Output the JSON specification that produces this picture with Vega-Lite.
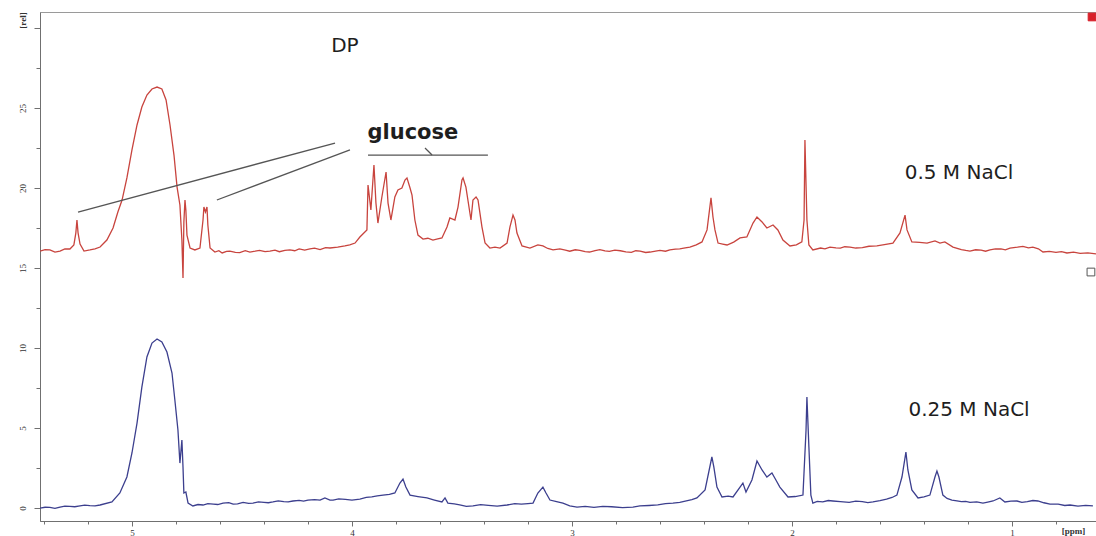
{
  "$schema": "https://vega.github.io/schema/vega-lite/v6.json",
  "width": 1056,
  "height": 509,
  "autosize": "none",
  "padding": {"left": 40, "top": 12, "right": 0, "bottom": 15},
  "background": "white",
  "config": {
    "view": {"stroke": "#9a9a9a", "strokeWidth": 1},
    "axis": {
      "domainColor": "#707070",
      "tickColor": "#707070",
      "labelFont": "Liberation Serif",
      "labelFontSize": 9,
      "labelColor": "#333333",
      "titleFont": "Liberation Serif",
      "titleFontSize": 9,
      "titleColor": "#333333",
      "grid": false
    }
  },
  "datasets": {
    "spectra": [
      {"series": "0.5 M NaCl", "ppm": 5.418, "intensity": 16.06},
      {"series": "0.5 M NaCl", "ppm": 5.395, "intensity": 16.15},
      {"series": "0.5 M NaCl", "ppm": 5.373, "intensity": 16.13},
      {"series": "0.5 M NaCl", "ppm": 5.350, "intensity": 16.00},
      {"series": "0.5 M NaCl", "ppm": 5.327, "intensity": 16.06},
      {"series": "0.5 M NaCl", "ppm": 5.305, "intensity": 16.19},
      {"series": "0.5 M NaCl", "ppm": 5.282, "intensity": 16.19},
      {"series": "0.5 M NaCl", "ppm": 5.264, "intensity": 16.44},
      {"series": "0.5 M NaCl", "ppm": 5.255, "intensity": 17.20},
      {"series": "0.5 M NaCl", "ppm": 5.250, "intensity": 18.00},
      {"series": "0.5 M NaCl", "ppm": 5.245, "intensity": 17.20},
      {"series": "0.5 M NaCl", "ppm": 5.236, "intensity": 16.50},
      {"series": "0.5 M NaCl", "ppm": 5.218, "intensity": 16.06},
      {"series": "0.5 M NaCl", "ppm": 5.191, "intensity": 16.13},
      {"series": "0.5 M NaCl", "ppm": 5.168, "intensity": 16.20},
      {"series": "0.5 M NaCl", "ppm": 5.145, "intensity": 16.31},
      {"series": "0.5 M NaCl", "ppm": 5.114, "intensity": 16.75},
      {"series": "0.5 M NaCl", "ppm": 5.086, "intensity": 17.50},
      {"series": "0.5 M NaCl", "ppm": 5.064, "intensity": 18.50},
      {"series": "0.5 M NaCl", "ppm": 5.045, "intensity": 19.25},
      {"series": "0.5 M NaCl", "ppm": 5.023, "intensity": 20.63},
      {"series": "0.5 M NaCl", "ppm": 5.000, "intensity": 22.38},
      {"series": "0.5 M NaCl", "ppm": 4.977, "intensity": 23.94},
      {"series": "0.5 M NaCl", "ppm": 4.955, "intensity": 25.06},
      {"series": "0.5 M NaCl", "ppm": 4.932, "intensity": 25.81},
      {"series": "0.5 M NaCl", "ppm": 4.909, "intensity": 26.19},
      {"series": "0.5 M NaCl", "ppm": 4.886, "intensity": 26.31},
      {"series": "0.5 M NaCl", "ppm": 4.864, "intensity": 26.19},
      {"series": "0.5 M NaCl", "ppm": 4.845, "intensity": 25.50},
      {"series": "0.5 M NaCl", "ppm": 4.827, "intensity": 23.94},
      {"series": "0.5 M NaCl", "ppm": 4.809, "intensity": 22.06},
      {"series": "0.5 M NaCl", "ppm": 4.795, "intensity": 20.06},
      {"series": "0.5 M NaCl", "ppm": 4.782, "intensity": 18.94},
      {"series": "0.5 M NaCl", "ppm": 4.773, "intensity": 16.75},
      {"series": "0.5 M NaCl", "ppm": 4.768, "intensity": 14.38},
      {"series": "0.5 M NaCl", "ppm": 4.764, "intensity": 17.88},
      {"series": "0.5 M NaCl", "ppm": 4.759, "intensity": 19.25},
      {"series": "0.5 M NaCl", "ppm": 4.755, "intensity": 18.63},
      {"series": "0.5 M NaCl", "ppm": 4.750, "intensity": 17.06},
      {"series": "0.5 M NaCl", "ppm": 4.736, "intensity": 16.25},
      {"series": "0.5 M NaCl", "ppm": 4.714, "intensity": 16.13},
      {"series": "0.5 M NaCl", "ppm": 4.691, "intensity": 16.25},
      {"series": "0.5 M NaCl", "ppm": 4.677, "intensity": 18.00},
      {"series": "0.5 M NaCl", "ppm": 4.673, "intensity": 18.81},
      {"series": "0.5 M NaCl", "ppm": 4.666, "intensity": 18.50},
      {"series": "0.5 M NaCl", "ppm": 4.659, "intensity": 18.81},
      {"series": "0.5 M NaCl", "ppm": 4.655, "intensity": 17.69},
      {"series": "0.5 M NaCl", "ppm": 4.645, "intensity": 16.25},
      {"series": "0.5 M NaCl", "ppm": 4.623, "intensity": 16.00},
      {"series": "0.5 M NaCl", "ppm": 4.605, "intensity": 16.08},
      {"series": "0.5 M NaCl", "ppm": 4.590, "intensity": 15.94},
      {"series": "0.5 M NaCl", "ppm": 4.570, "intensity": 16.04},
      {"series": "0.5 M NaCl", "ppm": 4.555, "intensity": 16.06},
      {"series": "0.5 M NaCl", "ppm": 4.530, "intensity": 15.98},
      {"series": "0.5 M NaCl", "ppm": 4.510, "intensity": 15.96},
      {"series": "0.5 M NaCl", "ppm": 4.485, "intensity": 16.08},
      {"series": "0.5 M NaCl", "ppm": 4.464, "intensity": 16.00},
      {"series": "0.5 M NaCl", "ppm": 4.440, "intensity": 16.05},
      {"series": "0.5 M NaCl", "ppm": 4.420, "intensity": 16.10},
      {"series": "0.5 M NaCl", "ppm": 4.395, "intensity": 16.02},
      {"series": "0.5 M NaCl", "ppm": 4.373, "intensity": 16.06},
      {"series": "0.5 M NaCl", "ppm": 4.350, "intensity": 16.12},
      {"series": "0.5 M NaCl", "ppm": 4.330, "intensity": 16.02},
      {"series": "0.5 M NaCl", "ppm": 4.305, "intensity": 16.10},
      {"series": "0.5 M NaCl", "ppm": 4.282, "intensity": 16.13},
      {"series": "0.5 M NaCl", "ppm": 4.260, "intensity": 16.08},
      {"series": "0.5 M NaCl", "ppm": 4.240, "intensity": 16.20},
      {"series": "0.5 M NaCl", "ppm": 4.215, "intensity": 16.12},
      {"series": "0.5 M NaCl", "ppm": 4.191, "intensity": 16.19},
      {"series": "0.5 M NaCl", "ppm": 4.170, "intensity": 16.24},
      {"series": "0.5 M NaCl", "ppm": 4.145, "intensity": 16.15},
      {"series": "0.5 M NaCl", "ppm": 4.120, "intensity": 16.27},
      {"series": "0.5 M NaCl", "ppm": 4.100, "intensity": 16.25},
      {"series": "0.5 M NaCl", "ppm": 4.065, "intensity": 16.30},
      {"series": "0.5 M NaCl", "ppm": 4.032, "intensity": 16.38},
      {"series": "0.5 M NaCl", "ppm": 4.010, "intensity": 16.45},
      {"series": "0.5 M NaCl", "ppm": 3.986, "intensity": 16.56},
      {"series": "0.5 M NaCl", "ppm": 3.964, "intensity": 16.94},
      {"series": "0.5 M NaCl", "ppm": 3.932, "intensity": 17.38},
      {"series": "0.5 M NaCl", "ppm": 3.927, "intensity": 20.19},
      {"series": "0.5 M NaCl", "ppm": 3.914, "intensity": 18.63},
      {"series": "0.5 M NaCl", "ppm": 3.900, "intensity": 21.44},
      {"series": "0.5 M NaCl", "ppm": 3.891, "intensity": 19.06},
      {"series": "0.5 M NaCl", "ppm": 3.882, "intensity": 17.81},
      {"series": "0.5 M NaCl", "ppm": 3.864, "intensity": 19.44},
      {"series": "0.5 M NaCl", "ppm": 3.845, "intensity": 21.00},
      {"series": "0.5 M NaCl", "ppm": 3.836, "intensity": 19.06},
      {"series": "0.5 M NaCl", "ppm": 3.823, "intensity": 18.00},
      {"series": "0.5 M NaCl", "ppm": 3.805, "intensity": 19.44},
      {"series": "0.5 M NaCl", "ppm": 3.791, "intensity": 19.88},
      {"series": "0.5 M NaCl", "ppm": 3.773, "intensity": 20.00},
      {"series": "0.5 M NaCl", "ppm": 3.759, "intensity": 20.50},
      {"series": "0.5 M NaCl", "ppm": 3.750, "intensity": 20.63},
      {"series": "0.5 M NaCl", "ppm": 3.736, "intensity": 20.00},
      {"series": "0.5 M NaCl", "ppm": 3.727, "intensity": 19.56},
      {"series": "0.5 M NaCl", "ppm": 3.714, "intensity": 18.00},
      {"series": "0.5 M NaCl", "ppm": 3.700, "intensity": 17.06},
      {"series": "0.5 M NaCl", "ppm": 3.677, "intensity": 16.81},
      {"series": "0.5 M NaCl", "ppm": 3.655, "intensity": 16.86},
      {"series": "0.5 M NaCl", "ppm": 3.632, "intensity": 16.75},
      {"series": "0.5 M NaCl", "ppm": 3.610, "intensity": 16.82},
      {"series": "0.5 M NaCl", "ppm": 3.591, "intensity": 16.88},
      {"series": "0.5 M NaCl", "ppm": 3.568, "intensity": 17.56},
      {"series": "0.5 M NaCl", "ppm": 3.555, "intensity": 18.13},
      {"series": "0.5 M NaCl", "ppm": 3.532, "intensity": 18.00},
      {"series": "0.5 M NaCl", "ppm": 3.518, "intensity": 18.81},
      {"series": "0.5 M NaCl", "ppm": 3.500, "intensity": 20.50},
      {"series": "0.5 M NaCl", "ppm": 3.495, "intensity": 20.63},
      {"series": "0.5 M NaCl", "ppm": 3.482, "intensity": 20.06},
      {"series": "0.5 M NaCl", "ppm": 3.473, "intensity": 19.25},
      {"series": "0.5 M NaCl", "ppm": 3.459, "intensity": 18.00},
      {"series": "0.5 M NaCl", "ppm": 3.450, "intensity": 19.25},
      {"series": "0.5 M NaCl", "ppm": 3.436, "intensity": 19.44},
      {"series": "0.5 M NaCl", "ppm": 3.427, "intensity": 19.25},
      {"series": "0.5 M NaCl", "ppm": 3.409, "intensity": 17.56},
      {"series": "0.5 M NaCl", "ppm": 3.395, "intensity": 16.56},
      {"series": "0.5 M NaCl", "ppm": 3.373, "intensity": 16.25},
      {"series": "0.5 M NaCl", "ppm": 3.350, "intensity": 16.30},
      {"series": "0.5 M NaCl", "ppm": 3.327, "intensity": 16.25},
      {"series": "0.5 M NaCl", "ppm": 3.295, "intensity": 16.56},
      {"series": "0.5 M NaCl", "ppm": 3.282, "intensity": 17.56},
      {"series": "0.5 M NaCl", "ppm": 3.268, "intensity": 18.31},
      {"series": "0.5 M NaCl", "ppm": 3.259, "intensity": 18.00},
      {"series": "0.5 M NaCl", "ppm": 3.250, "intensity": 17.19},
      {"series": "0.5 M NaCl", "ppm": 3.227, "intensity": 16.38},
      {"series": "0.5 M NaCl", "ppm": 3.191, "intensity": 16.25},
      {"series": "0.5 M NaCl", "ppm": 3.155, "intensity": 16.44},
      {"series": "0.5 M NaCl", "ppm": 3.132, "intensity": 16.38},
      {"series": "0.5 M NaCl", "ppm": 3.110, "intensity": 16.22},
      {"series": "0.5 M NaCl", "ppm": 3.086, "intensity": 16.13},
      {"series": "0.5 M NaCl", "ppm": 3.055, "intensity": 16.19},
      {"series": "0.5 M NaCl", "ppm": 3.030, "intensity": 16.12},
      {"series": "0.5 M NaCl", "ppm": 3.010, "intensity": 16.05},
      {"series": "0.5 M NaCl", "ppm": 2.985, "intensity": 16.14},
      {"series": "0.5 M NaCl", "ppm": 2.964, "intensity": 16.10},
      {"series": "0.5 M NaCl", "ppm": 2.940, "intensity": 16.03},
      {"series": "0.5 M NaCl", "ppm": 2.920, "intensity": 16.00},
      {"series": "0.5 M NaCl", "ppm": 2.895, "intensity": 16.09},
      {"series": "0.5 M NaCl", "ppm": 2.873, "intensity": 16.15},
      {"series": "0.5 M NaCl", "ppm": 2.850, "intensity": 16.07},
      {"series": "0.5 M NaCl", "ppm": 2.830, "intensity": 16.04},
      {"series": "0.5 M NaCl", "ppm": 2.805, "intensity": 16.12},
      {"series": "0.5 M NaCl", "ppm": 2.780, "intensity": 16.08},
      {"series": "0.5 M NaCl", "ppm": 2.755, "intensity": 16.01},
      {"series": "0.5 M NaCl", "ppm": 2.730, "intensity": 15.98},
      {"series": "0.5 M NaCl", "ppm": 2.710, "intensity": 16.08},
      {"series": "0.5 M NaCl", "ppm": 2.690, "intensity": 16.06},
      {"series": "0.5 M NaCl", "ppm": 2.665, "intensity": 15.97},
      {"series": "0.5 M NaCl", "ppm": 2.645, "intensity": 16.00},
      {"series": "0.5 M NaCl", "ppm": 2.620, "intensity": 16.06},
      {"series": "0.5 M NaCl", "ppm": 2.600, "intensity": 16.10},
      {"series": "0.5 M NaCl", "ppm": 2.575, "intensity": 16.05},
      {"series": "0.5 M NaCl", "ppm": 2.555, "intensity": 16.13},
      {"series": "0.5 M NaCl", "ppm": 2.530, "intensity": 16.18},
      {"series": "0.5 M NaCl", "ppm": 2.510, "intensity": 16.20},
      {"series": "0.5 M NaCl", "ppm": 2.485, "intensity": 16.26},
      {"series": "0.5 M NaCl", "ppm": 2.464, "intensity": 16.31},
      {"series": "0.5 M NaCl", "ppm": 2.435, "intensity": 16.45},
      {"series": "0.5 M NaCl", "ppm": 2.409, "intensity": 16.63},
      {"series": "0.5 M NaCl", "ppm": 2.386, "intensity": 17.38},
      {"series": "0.5 M NaCl", "ppm": 2.368, "intensity": 19.38},
      {"series": "0.5 M NaCl", "ppm": 2.359, "intensity": 18.19},
      {"series": "0.5 M NaCl", "ppm": 2.350, "intensity": 17.38},
      {"series": "0.5 M NaCl", "ppm": 2.336, "intensity": 16.56},
      {"series": "0.5 M NaCl", "ppm": 2.315, "intensity": 16.50},
      {"series": "0.5 M NaCl", "ppm": 2.295, "intensity": 16.44},
      {"series": "0.5 M NaCl", "ppm": 2.265, "intensity": 16.62},
      {"series": "0.5 M NaCl", "ppm": 2.236, "intensity": 16.88},
      {"series": "0.5 M NaCl", "ppm": 2.205, "intensity": 16.94},
      {"series": "0.5 M NaCl", "ppm": 2.177, "intensity": 17.81},
      {"series": "0.5 M NaCl", "ppm": 2.159, "intensity": 18.19},
      {"series": "0.5 M NaCl", "ppm": 2.136, "intensity": 17.88},
      {"series": "0.5 M NaCl", "ppm": 2.114, "intensity": 17.50},
      {"series": "0.5 M NaCl", "ppm": 2.086, "intensity": 17.69},
      {"series": "0.5 M NaCl", "ppm": 2.064, "intensity": 17.38},
      {"series": "0.5 M NaCl", "ppm": 2.041, "intensity": 16.75},
      {"series": "0.5 M NaCl", "ppm": 2.009, "intensity": 16.38},
      {"series": "0.5 M NaCl", "ppm": 1.980, "intensity": 16.45},
      {"series": "0.5 M NaCl", "ppm": 1.955, "intensity": 16.63},
      {"series": "0.5 M NaCl", "ppm": 1.945, "intensity": 18.00},
      {"series": "0.5 M NaCl", "ppm": 1.941, "intensity": 23.00},
      {"series": "0.5 M NaCl", "ppm": 1.932, "intensity": 18.00},
      {"series": "0.5 M NaCl", "ppm": 1.923, "intensity": 16.44},
      {"series": "0.5 M NaCl", "ppm": 1.905, "intensity": 16.13},
      {"series": "0.5 M NaCl", "ppm": 1.870, "intensity": 16.25},
      {"series": "0.5 M NaCl", "ppm": 1.850, "intensity": 16.20},
      {"series": "0.5 M NaCl", "ppm": 1.827, "intensity": 16.31},
      {"series": "0.5 M NaCl", "ppm": 1.800, "intensity": 16.26},
      {"series": "0.5 M NaCl", "ppm": 1.780, "intensity": 16.24},
      {"series": "0.5 M NaCl", "ppm": 1.760, "intensity": 16.33},
      {"series": "0.5 M NaCl", "ppm": 1.736, "intensity": 16.31},
      {"series": "0.5 M NaCl", "ppm": 1.710, "intensity": 16.25},
      {"series": "0.5 M NaCl", "ppm": 1.680, "intensity": 16.28},
      {"series": "0.5 M NaCl", "ppm": 1.650, "intensity": 16.36},
      {"series": "0.5 M NaCl", "ppm": 1.614, "intensity": 16.38},
      {"series": "0.5 M NaCl", "ppm": 1.580, "intensity": 16.46},
      {"series": "0.5 M NaCl", "ppm": 1.541, "intensity": 16.56},
      {"series": "0.5 M NaCl", "ppm": 1.509, "intensity": 17.19},
      {"series": "0.5 M NaCl", "ppm": 1.486, "intensity": 18.31},
      {"series": "0.5 M NaCl", "ppm": 1.477, "intensity": 17.38},
      {"series": "0.5 M NaCl", "ppm": 1.455, "intensity": 16.63},
      {"series": "0.5 M NaCl", "ppm": 1.420, "intensity": 16.60},
      {"series": "0.5 M NaCl", "ppm": 1.386, "intensity": 16.56},
      {"series": "0.5 M NaCl", "ppm": 1.350, "intensity": 16.69},
      {"series": "0.5 M NaCl", "ppm": 1.327, "intensity": 16.56},
      {"series": "0.5 M NaCl", "ppm": 1.305, "intensity": 16.63},
      {"series": "0.5 M NaCl", "ppm": 1.268, "intensity": 16.31},
      {"series": "0.5 M NaCl", "ppm": 1.230, "intensity": 16.15},
      {"series": "0.5 M NaCl", "ppm": 1.210, "intensity": 16.10},
      {"series": "0.5 M NaCl", "ppm": 1.191, "intensity": 16.06},
      {"series": "0.5 M NaCl", "ppm": 1.165, "intensity": 16.14},
      {"series": "0.5 M NaCl", "ppm": 1.140, "intensity": 16.12},
      {"series": "0.5 M NaCl", "ppm": 1.120, "intensity": 16.05},
      {"series": "0.5 M NaCl", "ppm": 1.100, "intensity": 16.13},
      {"series": "0.5 M NaCl", "ppm": 1.075, "intensity": 16.19},
      {"series": "0.5 M NaCl", "ppm": 1.050, "intensity": 16.20},
      {"series": "0.5 M NaCl", "ppm": 1.030, "intensity": 16.14},
      {"series": "0.5 M NaCl", "ppm": 1.009, "intensity": 16.25},
      {"series": "0.5 M NaCl", "ppm": 0.975, "intensity": 16.30},
      {"series": "0.5 M NaCl", "ppm": 0.950, "intensity": 16.35},
      {"series": "0.5 M NaCl", "ppm": 0.925, "intensity": 16.26},
      {"series": "0.5 M NaCl", "ppm": 0.905, "intensity": 16.31},
      {"series": "0.5 M NaCl", "ppm": 0.880, "intensity": 16.20},
      {"series": "0.5 M NaCl", "ppm": 0.859, "intensity": 16.00},
      {"series": "0.5 M NaCl", "ppm": 0.830, "intensity": 16.04},
      {"series": "0.5 M NaCl", "ppm": 0.800, "intensity": 15.98},
      {"series": "0.5 M NaCl", "ppm": 0.775, "intensity": 16.03},
      {"series": "0.5 M NaCl", "ppm": 0.750, "intensity": 15.94},
      {"series": "0.5 M NaCl", "ppm": 0.720, "intensity": 15.99},
      {"series": "0.5 M NaCl", "ppm": 0.690, "intensity": 15.92},
      {"series": "0.5 M NaCl", "ppm": 0.655, "intensity": 15.95},
      {"series": "0.5 M NaCl", "ppm": 0.618, "intensity": 15.88},

      {"series": "0.25 M NaCl", "ppm": 5.418, "intensity": 0.00},
      {"series": "0.25 M NaCl", "ppm": 5.395, "intensity": 0.05},
      {"series": "0.25 M NaCl", "ppm": 5.373, "intensity": 0.04},
      {"series": "0.25 M NaCl", "ppm": 5.350, "intensity": -0.02},
      {"series": "0.25 M NaCl", "ppm": 5.327, "intensity": 0.06},
      {"series": "0.25 M NaCl", "ppm": 5.305, "intensity": 0.12},
      {"series": "0.25 M NaCl", "ppm": 5.282, "intensity": 0.10},
      {"series": "0.25 M NaCl", "ppm": 5.260, "intensity": 0.08},
      {"series": "0.25 M NaCl", "ppm": 5.236, "intensity": 0.13},
      {"series": "0.25 M NaCl", "ppm": 5.215, "intensity": 0.18},
      {"series": "0.25 M NaCl", "ppm": 5.191, "intensity": 0.15},
      {"series": "0.25 M NaCl", "ppm": 5.168, "intensity": 0.14},
      {"series": "0.25 M NaCl", "ppm": 5.145, "intensity": 0.19},
      {"series": "0.25 M NaCl", "ppm": 5.091, "intensity": 0.38},
      {"series": "0.25 M NaCl", "ppm": 5.055, "intensity": 0.94},
      {"series": "0.25 M NaCl", "ppm": 5.023, "intensity": 1.94},
      {"series": "0.25 M NaCl", "ppm": 5.000, "intensity": 3.44},
      {"series": "0.25 M NaCl", "ppm": 4.977, "intensity": 5.31},
      {"series": "0.25 M NaCl", "ppm": 4.955, "intensity": 7.56},
      {"series": "0.25 M NaCl", "ppm": 4.932, "intensity": 9.44},
      {"series": "0.25 M NaCl", "ppm": 4.909, "intensity": 10.31},
      {"series": "0.25 M NaCl", "ppm": 4.886, "intensity": 10.56},
      {"series": "0.25 M NaCl", "ppm": 4.864, "intensity": 10.38},
      {"series": "0.25 M NaCl", "ppm": 4.841, "intensity": 9.75},
      {"series": "0.25 M NaCl", "ppm": 4.818, "intensity": 8.44},
      {"series": "0.25 M NaCl", "ppm": 4.805, "intensity": 6.75},
      {"series": "0.25 M NaCl", "ppm": 4.791, "intensity": 4.88},
      {"series": "0.25 M NaCl", "ppm": 4.782, "intensity": 2.81},
      {"series": "0.25 M NaCl", "ppm": 4.773, "intensity": 4.25},
      {"series": "0.25 M NaCl", "ppm": 4.768, "intensity": 2.56},
      {"series": "0.25 M NaCl", "ppm": 4.764, "intensity": 0.94},
      {"series": "0.25 M NaCl", "ppm": 4.755, "intensity": 1.00},
      {"series": "0.25 M NaCl", "ppm": 4.745, "intensity": 0.31},
      {"series": "0.25 M NaCl", "ppm": 4.723, "intensity": 0.13},
      {"series": "0.25 M NaCl", "ppm": 4.700, "intensity": 0.22},
      {"series": "0.25 M NaCl", "ppm": 4.677, "intensity": 0.19},
      {"series": "0.25 M NaCl", "ppm": 4.655, "intensity": 0.28},
      {"series": "0.25 M NaCl", "ppm": 4.630, "intensity": 0.25},
      {"series": "0.25 M NaCl", "ppm": 4.610, "intensity": 0.22},
      {"series": "0.25 M NaCl", "ppm": 4.586, "intensity": 0.31},
      {"series": "0.25 M NaCl", "ppm": 4.560, "intensity": 0.34},
      {"series": "0.25 M NaCl", "ppm": 4.540, "intensity": 0.24},
      {"series": "0.25 M NaCl", "ppm": 4.520, "intensity": 0.26},
      {"series": "0.25 M NaCl", "ppm": 4.495, "intensity": 0.35},
      {"series": "0.25 M NaCl", "ppm": 4.470, "intensity": 0.29},
      {"series": "0.25 M NaCl", "ppm": 4.450, "intensity": 0.31},
      {"series": "0.25 M NaCl", "ppm": 4.425, "intensity": 0.39},
      {"series": "0.25 M NaCl", "ppm": 4.400, "intensity": 0.36},
      {"series": "0.25 M NaCl", "ppm": 4.380, "intensity": 0.33},
      {"series": "0.25 M NaCl", "ppm": 4.359, "intensity": 0.38},
      {"series": "0.25 M NaCl", "ppm": 4.335, "intensity": 0.45},
      {"series": "0.25 M NaCl", "ppm": 4.310, "intensity": 0.40},
      {"series": "0.25 M NaCl", "ppm": 4.290, "intensity": 0.38},
      {"series": "0.25 M NaCl", "ppm": 4.268, "intensity": 0.44},
      {"series": "0.25 M NaCl", "ppm": 4.240, "intensity": 0.48},
      {"series": "0.25 M NaCl", "ppm": 4.220, "intensity": 0.43},
      {"series": "0.25 M NaCl", "ppm": 4.200, "intensity": 0.50},
      {"series": "0.25 M NaCl", "ppm": 4.170, "intensity": 0.52},
      {"series": "0.25 M NaCl", "ppm": 4.145, "intensity": 0.49},
      {"series": "0.25 M NaCl", "ppm": 4.123, "intensity": 0.63},
      {"series": "0.25 M NaCl", "ppm": 4.100, "intensity": 0.50},
      {"series": "0.25 M NaCl", "ppm": 4.086, "intensity": 0.50},
      {"series": "0.25 M NaCl", "ppm": 4.060, "intensity": 0.57},
      {"series": "0.25 M NaCl", "ppm": 4.030, "intensity": 0.54},
      {"series": "0.25 M NaCl", "ppm": 4.000, "intensity": 0.50},
      {"series": "0.25 M NaCl", "ppm": 3.964, "intensity": 0.56},
      {"series": "0.25 M NaCl", "ppm": 3.935, "intensity": 0.66},
      {"series": "0.25 M NaCl", "ppm": 3.910, "intensity": 0.70},
      {"series": "0.25 M NaCl", "ppm": 3.885, "intensity": 0.76},
      {"series": "0.25 M NaCl", "ppm": 3.859, "intensity": 0.81},
      {"series": "0.25 M NaCl", "ppm": 3.830, "intensity": 0.86},
      {"series": "0.25 M NaCl", "ppm": 3.805, "intensity": 0.94},
      {"series": "0.25 M NaCl", "ppm": 3.782, "intensity": 1.56},
      {"series": "0.25 M NaCl", "ppm": 3.768, "intensity": 1.81},
      {"series": "0.25 M NaCl", "ppm": 3.755, "intensity": 1.31},
      {"series": "0.25 M NaCl", "ppm": 3.736, "intensity": 0.81},
      {"series": "0.25 M NaCl", "ppm": 3.700, "intensity": 0.72},
      {"series": "0.25 M NaCl", "ppm": 3.659, "intensity": 0.63},
      {"series": "0.25 M NaCl", "ppm": 3.625, "intensity": 0.50},
      {"series": "0.25 M NaCl", "ppm": 3.591, "intensity": 0.38},
      {"series": "0.25 M NaCl", "ppm": 3.577, "intensity": 0.63},
      {"series": "0.25 M NaCl", "ppm": 3.564, "intensity": 0.31},
      {"series": "0.25 M NaCl", "ppm": 3.535, "intensity": 0.26},
      {"series": "0.25 M NaCl", "ppm": 3.510, "intensity": 0.20},
      {"series": "0.25 M NaCl", "ppm": 3.480, "intensity": 0.10},
      {"series": "0.25 M NaCl", "ppm": 3.450, "intensity": 0.13},
      {"series": "0.25 M NaCl", "ppm": 3.415, "intensity": 0.21},
      {"series": "0.25 M NaCl", "ppm": 3.380, "intensity": 0.17},
      {"series": "0.25 M NaCl", "ppm": 3.340, "intensity": 0.12},
      {"series": "0.25 M NaCl", "ppm": 3.295, "intensity": 0.19},
      {"series": "0.25 M NaCl", "ppm": 3.260, "intensity": 0.27},
      {"series": "0.25 M NaCl", "ppm": 3.230, "intensity": 0.24},
      {"series": "0.25 M NaCl", "ppm": 3.200, "intensity": 0.28},
      {"series": "0.25 M NaCl", "ppm": 3.177, "intensity": 0.31},
      {"series": "0.25 M NaCl", "ppm": 3.155, "intensity": 0.94},
      {"series": "0.25 M NaCl", "ppm": 3.132, "intensity": 1.31},
      {"series": "0.25 M NaCl", "ppm": 3.118, "intensity": 0.94},
      {"series": "0.25 M NaCl", "ppm": 3.100, "intensity": 0.50},
      {"series": "0.25 M NaCl", "ppm": 3.070, "intensity": 0.40},
      {"series": "0.25 M NaCl", "ppm": 3.041, "intensity": 0.31},
      {"series": "0.25 M NaCl", "ppm": 3.010, "intensity": 0.14},
      {"series": "0.25 M NaCl", "ppm": 2.977, "intensity": 0.06},
      {"series": "0.25 M NaCl", "ppm": 2.940, "intensity": 0.10},
      {"series": "0.25 M NaCl", "ppm": 2.900, "intensity": 0.04},
      {"series": "0.25 M NaCl", "ppm": 2.860, "intensity": 0.10},
      {"series": "0.25 M NaCl", "ppm": 2.820, "intensity": 0.08},
      {"series": "0.25 M NaCl", "ppm": 2.770, "intensity": 0.02},
      {"series": "0.25 M NaCl", "ppm": 2.723, "intensity": 0.06},
      {"series": "0.25 M NaCl", "ppm": 2.691, "intensity": 0.13},
      {"series": "0.25 M NaCl", "ppm": 2.650, "intensity": 0.16},
      {"series": "0.25 M NaCl", "ppm": 2.610, "intensity": 0.20},
      {"series": "0.25 M NaCl", "ppm": 2.575, "intensity": 0.28},
      {"series": "0.25 M NaCl", "ppm": 2.541, "intensity": 0.31},
      {"series": "0.25 M NaCl", "ppm": 2.510, "intensity": 0.36},
      {"series": "0.25 M NaCl", "ppm": 2.480, "intensity": 0.45},
      {"series": "0.25 M NaCl", "ppm": 2.455, "intensity": 0.52},
      {"series": "0.25 M NaCl", "ppm": 2.432, "intensity": 0.63},
      {"series": "0.25 M NaCl", "ppm": 2.395, "intensity": 1.13},
      {"series": "0.25 M NaCl", "ppm": 2.364, "intensity": 3.19},
      {"series": "0.25 M NaCl", "ppm": 2.355, "intensity": 2.56},
      {"series": "0.25 M NaCl", "ppm": 2.341, "intensity": 1.31},
      {"series": "0.25 M NaCl", "ppm": 2.318, "intensity": 0.69},
      {"series": "0.25 M NaCl", "ppm": 2.290, "intensity": 0.74},
      {"series": "0.25 M NaCl", "ppm": 2.268, "intensity": 0.69},
      {"series": "0.25 M NaCl", "ppm": 2.236, "intensity": 1.31},
      {"series": "0.25 M NaCl", "ppm": 2.223, "intensity": 1.56},
      {"series": "0.25 M NaCl", "ppm": 2.209, "intensity": 1.00},
      {"series": "0.25 M NaCl", "ppm": 2.182, "intensity": 1.75},
      {"series": "0.25 M NaCl", "ppm": 2.159, "intensity": 2.94},
      {"series": "0.25 M NaCl", "ppm": 2.136, "intensity": 2.38},
      {"series": "0.25 M NaCl", "ppm": 2.114, "intensity": 1.94},
      {"series": "0.25 M NaCl", "ppm": 2.091, "intensity": 2.19},
      {"series": "0.25 M NaCl", "ppm": 2.073, "intensity": 1.75},
      {"series": "0.25 M NaCl", "ppm": 2.055, "intensity": 1.31},
      {"series": "0.25 M NaCl", "ppm": 2.018, "intensity": 0.69},
      {"series": "0.25 M NaCl", "ppm": 1.985, "intensity": 0.72},
      {"series": "0.25 M NaCl", "ppm": 1.950, "intensity": 0.81},
      {"series": "0.25 M NaCl", "ppm": 1.936, "intensity": 4.88},
      {"series": "0.25 M NaCl", "ppm": 1.932, "intensity": 6.94},
      {"series": "0.25 M NaCl", "ppm": 1.923, "intensity": 3.81},
      {"series": "0.25 M NaCl", "ppm": 1.914, "intensity": 0.81},
      {"series": "0.25 M NaCl", "ppm": 1.905, "intensity": 0.31},
      {"series": "0.25 M NaCl", "ppm": 1.885, "intensity": 0.42},
      {"series": "0.25 M NaCl", "ppm": 1.860, "intensity": 0.38},
      {"series": "0.25 M NaCl", "ppm": 1.835, "intensity": 0.47},
      {"series": "0.25 M NaCl", "ppm": 1.814, "intensity": 0.44},
      {"series": "0.25 M NaCl", "ppm": 1.780, "intensity": 0.40},
      {"series": "0.25 M NaCl", "ppm": 1.740, "intensity": 0.36},
      {"series": "0.25 M NaCl", "ppm": 1.710, "intensity": 0.43},
      {"series": "0.25 M NaCl", "ppm": 1.680, "intensity": 0.40},
      {"series": "0.25 M NaCl", "ppm": 1.655, "intensity": 0.34},
      {"series": "0.25 M NaCl", "ppm": 1.632, "intensity": 0.38},
      {"series": "0.25 M NaCl", "ppm": 1.600, "intensity": 0.46},
      {"series": "0.25 M NaCl", "ppm": 1.570, "intensity": 0.55},
      {"series": "0.25 M NaCl", "ppm": 1.545, "intensity": 0.66},
      {"series": "0.25 M NaCl", "ppm": 1.523, "intensity": 0.81},
      {"series": "0.25 M NaCl", "ppm": 1.500, "intensity": 1.94},
      {"series": "0.25 M NaCl", "ppm": 1.482, "intensity": 3.50},
      {"series": "0.25 M NaCl", "ppm": 1.473, "intensity": 2.38},
      {"series": "0.25 M NaCl", "ppm": 1.455, "intensity": 1.13},
      {"series": "0.25 M NaCl", "ppm": 1.427, "intensity": 0.63},
      {"series": "0.25 M NaCl", "ppm": 1.400, "intensity": 0.70},
      {"series": "0.25 M NaCl", "ppm": 1.373, "intensity": 0.81},
      {"series": "0.25 M NaCl", "ppm": 1.350, "intensity": 1.94},
      {"series": "0.25 M NaCl", "ppm": 1.341, "intensity": 2.31},
      {"series": "0.25 M NaCl", "ppm": 1.332, "intensity": 1.94},
      {"series": "0.25 M NaCl", "ppm": 1.314, "intensity": 0.81},
      {"series": "0.25 M NaCl", "ppm": 1.295, "intensity": 0.60},
      {"series": "0.25 M NaCl", "ppm": 1.273, "intensity": 0.50},
      {"series": "0.25 M NaCl", "ppm": 1.250, "intensity": 0.45},
      {"series": "0.25 M NaCl", "ppm": 1.230, "intensity": 0.40},
      {"series": "0.25 M NaCl", "ppm": 1.210, "intensity": 0.42},
      {"series": "0.25 M NaCl", "ppm": 1.191, "intensity": 0.35},
      {"series": "0.25 M NaCl", "ppm": 1.160, "intensity": 0.38},
      {"series": "0.25 M NaCl", "ppm": 1.132, "intensity": 0.31},
      {"series": "0.25 M NaCl", "ppm": 1.110, "intensity": 0.37},
      {"series": "0.25 M NaCl", "ppm": 1.086, "intensity": 0.44},
      {"series": "0.25 M NaCl", "ppm": 1.055, "intensity": 0.63},
      {"series": "0.25 M NaCl", "ppm": 1.032, "intensity": 0.38},
      {"series": "0.25 M NaCl", "ppm": 1.005, "intensity": 0.43},
      {"series": "0.25 M NaCl", "ppm": 0.977, "intensity": 0.44},
      {"series": "0.25 M NaCl", "ppm": 0.955, "intensity": 0.36},
      {"series": "0.25 M NaCl", "ppm": 0.930, "intensity": 0.40},
      {"series": "0.25 M NaCl", "ppm": 0.905, "intensity": 0.47},
      {"series": "0.25 M NaCl", "ppm": 0.882, "intensity": 0.44},
      {"series": "0.25 M NaCl", "ppm": 0.855, "intensity": 0.33},
      {"series": "0.25 M NaCl", "ppm": 0.827, "intensity": 0.25},
      {"series": "0.25 M NaCl", "ppm": 0.790, "intensity": 0.24},
      {"series": "0.25 M NaCl", "ppm": 0.760, "intensity": 0.16},
      {"series": "0.25 M NaCl", "ppm": 0.736, "intensity": 0.19},
      {"series": "0.25 M NaCl", "ppm": 0.700, "intensity": 0.12},
      {"series": "0.25 M NaCl", "ppm": 0.665, "intensity": 0.17},
      {"series": "0.25 M NaCl", "ppm": 0.632, "intensity": 0.13}
    ],
    "leaders": [
      {"ppm": 5.245, "intensity": 18.50, "ppm2": 4.077, "intensity2": 22.81},
      {"ppm": 4.614, "intensity": 19.25, "ppm2": 4.009, "intensity2": 22.38},
      {"ppm": 3.927, "intensity": 22.06, "ppm2": 3.382, "intensity2": 22.06},
      {"ppm": 3.668, "intensity": 22.50, "ppm2": 3.636, "intensity2": 22.06}
    ],
    "labels": [
      {"label": "DP", "ppm": 4.032, "intensity": 28.88},
      {"label": "0.5 M NaCl", "ppm": 1.241, "intensity": 20.94},
      {"label": "0.25 M NaCl", "ppm": 1.195, "intensity": 6.13}
    ],
    "boldLabels": [
      {"label": "glucose", "ppm": 3.723, "intensity": 23.44}
    ],
    "markers": [
      {"kind": "filled", "ppm": 0.636, "intensity": 30.69},
      {"kind": "open", "ppm": 0.641, "intensity": 14.75}
    ]
  },
  "layer": [
    {
      "data": {"name": "spectra"},
      "mark": {"type": "line", "strokeWidth": 1.3, "clip": true},
      "encoding": {
        "x": {
          "field": "ppm",
          "type": "quantitative",
          "scale": {"domain": [0.618, 5.418], "reverse": true, "nice": false, "zero": false},
          "axis": {
            "values": [5.4, 5.2, 5, 4.8, 4.6, 4.4, 4.2, 4, 3.8, 3.6, 3.4, 3.2, 3, 2.8, 2.6, 2.4, 2.2, 2, 1.8, 1.6, 1.4, 1.2, 1, 0.8],
            "labelExpr": "datum.value % 1 === 0 ? format(datum.value, 'd') : ''",
            "tickSize": {"condition": {"test": "datum.value % 1 === 0", "value": 5}, "value": 3},
            "labelPadding": 2,
            "labelFlush": false,
            "labelOverlap": false,
            "title": "[ppm]",
            "titleX": 1033,
            "titleY": 9,
            "titleAlign": "center",
            "titleBaseline": "middle",
            "titleFontWeight": "bold"
          }
        },
        "y": {
          "field": "intensity",
          "type": "quantitative",
          "scale": {"domain": [-0.81, 31.0], "nice": false, "zero": false},
          "axis": {
            "values": [0, 1.25, 2.5, 3.75, 5, 6.25, 7.5, 8.75, 10, 11.25, 12.5, 13.75, 15, 16.25, 17.5, 18.75, 20, 21.25, 22.5, 23.75, 25, 26.25, 27.5, 28.75, 30],
            "labelExpr": "datum.value % 5 === 0 && datum.value < 30 ? format(datum.value, 'd') : ''",
            "tickSize": {"condition": {"test": "datum.value % 5 === 0", "value": 6}, "value": 4},
            "labelAngle": -90,
            "labelAlign": "center",
            "labelBaseline": "bottom",
            "labelPadding": 7,
            "labelFlush": false,
            "labelOverlap": false,
            "title": "[rel]",
            "titleAngle": -90,
            "titleX": -18,
            "titleY": 8,
            "titleAlign": "center",
            "titleBaseline": "middle",
            "titleFontWeight": "bold"
          }
        },
        "color": {
          "field": "series",
          "type": "nominal",
          "scale": {"domain": ["0.5 M NaCl", "0.25 M NaCl"], "range": ["#c8443e", "#3c3f8e"]},
          "legend": null
        }
      }
    },
    {
      "data": {"name": "leaders"},
      "mark": {"type": "rule", "color": "#555555", "strokeWidth": 1.3},
      "encoding": {
        "x": {"field": "ppm", "type": "quantitative"},
        "x2": {"field": "ppm2"},
        "y": {"field": "intensity", "type": "quantitative"},
        "y2": {"field": "intensity2"}
      }
    },
    {
      "data": {"name": "labels"},
      "mark": {"type": "text", "font": "DejaVu Sans", "fontSize": 20, "color": "#1e1e1e", "align": "center", "baseline": "middle"},
      "encoding": {
        "x": {"field": "ppm", "type": "quantitative"},
        "y": {"field": "intensity", "type": "quantitative"},
        "text": {"field": "label"}
      }
    },
    {
      "data": {"name": "boldLabels"},
      "mark": {"type": "text", "font": "DejaVu Sans", "fontSize": 21, "fontWeight": "bold", "color": "#1e1e1e", "align": "center", "baseline": "middle"},
      "encoding": {
        "x": {"field": "ppm", "type": "quantitative"},
        "y": {"field": "intensity", "type": "quantitative"},
        "text": {"field": "label"}
      }
    },
    {
      "data": {"name": "markers"},
      "mark": {"type": "point", "shape": "square", "size": 60, "strokeWidth": 1, "clip": true},
      "encoding": {
        "x": {"field": "ppm", "type": "quantitative"},
        "y": {"field": "intensity", "type": "quantitative"},
        "fill": {"field": "kind", "type": "nominal", "scale": {"domain": ["filled", "open"], "range": ["#d8202a", "#ffffff"]}, "legend": null},
        "stroke": {"field": "kind", "type": "nominal", "scale": {"domain": ["filled", "open"], "range": ["#d8202a", "#555555"]}, "legend": null},
        "opacity": {"value": 1}
      }
    }
  ]
}
